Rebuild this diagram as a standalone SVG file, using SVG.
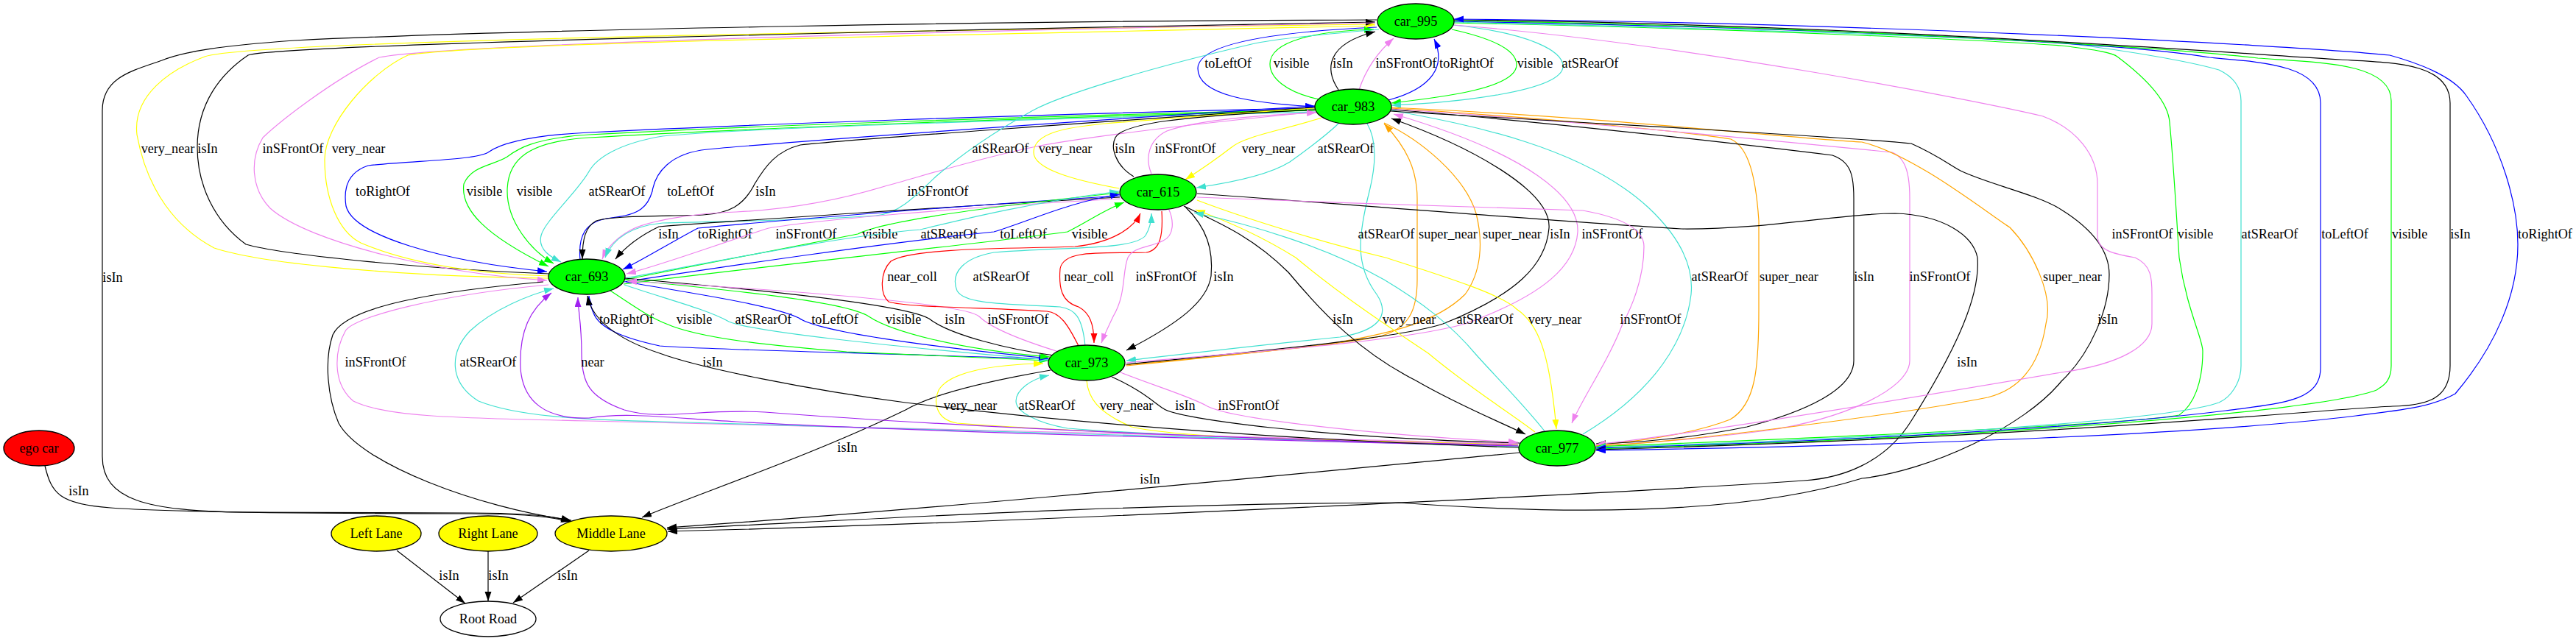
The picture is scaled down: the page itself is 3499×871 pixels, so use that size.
<svg xmlns="http://www.w3.org/2000/svg" width="3499" height="871" viewBox="0 0 3499 871">
<style>
.e path{fill:none;stroke-width:1.2}
.k{stroke:#000}.b{stroke:#00f}.g{stroke:#0f0}.c{stroke:#40e0d0}.v{stroke:#ee82ee}.y{stroke:#ff0}.o{stroke:#ffa500}.r{stroke:#f00}.p{stroke:#a020f0}
text{font-family:"Liberation Serif","Times New Roman",serif;font-size:18.2px;fill:#000;text-anchor:middle}
.n ellipse{stroke:#000;stroke-width:1.3}
</style>
<defs>
<marker id="mk" markerWidth="14" markerHeight="10" refX="13" refY="4.5" orient="auto-start-reverse" markerUnits="userSpaceOnUse"><path d="M0,0L13,4.5L0,9z" fill="#000"/></marker>
<marker id="mb" markerWidth="14" markerHeight="10" refX="13" refY="4.5" orient="auto-start-reverse" markerUnits="userSpaceOnUse"><path d="M0,0L13,4.5L0,9z" fill="#00f"/></marker>
<marker id="mg" markerWidth="14" markerHeight="10" refX="13" refY="4.5" orient="auto-start-reverse" markerUnits="userSpaceOnUse"><path d="M0,0L13,4.5L0,9z" fill="#0f0"/></marker>
<marker id="mc" markerWidth="14" markerHeight="10" refX="13" refY="4.5" orient="auto-start-reverse" markerUnits="userSpaceOnUse"><path d="M0,0L13,4.5L0,9z" fill="#40e0d0"/></marker>
<marker id="mv" markerWidth="14" markerHeight="10" refX="13" refY="4.5" orient="auto-start-reverse" markerUnits="userSpaceOnUse"><path d="M0,0L13,4.5L0,9z" fill="#ee82ee"/></marker>
<marker id="my" markerWidth="14" markerHeight="10" refX="13" refY="4.5" orient="auto-start-reverse" markerUnits="userSpaceOnUse"><path d="M0,0L13,4.5L0,9z" fill="#ff0"/></marker>
<marker id="mo" markerWidth="14" markerHeight="10" refX="13" refY="4.5" orient="auto-start-reverse" markerUnits="userSpaceOnUse"><path d="M0,0L13,4.5L0,9z" fill="#ffa500"/></marker>
<marker id="mr" markerWidth="14" markerHeight="10" refX="13" refY="4.5" orient="auto-start-reverse" markerUnits="userSpaceOnUse"><path d="M0,0L13,4.5L0,9z" fill="#f00"/></marker>
<marker id="mp" markerWidth="14" markerHeight="10" refX="13" refY="4.5" orient="auto-start-reverse" markerUnits="userSpaceOnUse"><path d="M0,0L13,4.5L0,9z" fill="#a020f0"/></marker>
</defs>
<rect width="3499" height="871" fill="#fff"/>
<g id="edges">
<!-- car_983 <-> car_995 -->
<g class="e"><path class="b" d="M1870,37 C1760,42 1627,55 1627,93 C1627,130 1700,140 1786,145" marker-end="url(#mb)"/><text x="1668" y="92">toLeftOf</text></g>
<g class="e"><path class="g" d="M1792,135 C1745,125 1725,105 1725,87 C1725,55 1790,42 1866,40" marker-end="url(#mg)"/><text x="1754" y="92">visible</text></g>
<g class="e"><path class="k" d="M1818,122 C1800,95 1800,60 1868,43" marker-end="url(#mk)"/><text x="1824" y="92">isIn</text></g>
<g class="e"><path class="v" d="M1846,122 C1855,95 1870,72 1893,52" marker-end="url(#mv)"/><text x="1910" y="92">inSFrontOf</text></g>
<g class="e"><path class="b" d="M1886,136 C1945,120 1965,90 1948,53" marker-end="url(#mb)"/><text x="1992" y="92">toRightOf</text></g>
<g class="e"><path class="g" d="M1972,40 C2040,55 2060,72 2060,88 C2060,120 1960,132 1890,140" marker-end="url(#mg)"/><text x="2085" y="92">visible</text></g>
<g class="e"><path class="c" d="M1974,34 C2080,45 2123,70 2123,90 C2123,125 1970,140 1890,143" marker-end="url(#mc)"/><text x="2160" y="92">atSRearOf</text></g>
<!-- isIn to Middle Lane -->
<g class="e"><path class="k" d="M1870,27 C1400,28 700,40 400,55 C300,62 250,70 220,82 C180,96 139,105 139,150 L139,620 C139,680 200,694 330,696 L640,697 C700,697 750,700 775,708" marker-end="url(#mk)"/><text x="153" y="383">isIn</text></g>
<g class="e"><path class="k" d="M61,633 C70,670 80,685 150,690 C250,697 500,698 640,698 C700,698 750,702 775,709" marker-end="url(#mk)"/><text x="107" y="673">isIn</text></g>
<!-- car_693 <-> car_995 -->
<g class="e"><path class="y" d="M745,378 C560,376 360,360 291,337 C240,310 200,260 186,183 C180,130 230,95 278,77 C340,55 1200,42 1868,33" marker-end="url(#my)"/><text x="228" y="208">very_near</text></g>
<g class="e"><path class="k" d="M746,372 C560,365 380,345 334,332 C290,300 268,250 268,200 C268,140 300,100 337,75 C380,60 1300,40 1868,30" marker-end="url(#mk)"/><text x="282" y="208">isIn</text></g>
<g class="e"><path class="v" d="M1868,31 C1300,42 600,60 515,78 C450,110 380,165 357,187 C340,215 340,255 367,283 C420,330 600,372 743,381" marker-end="url(#mv)"/><text x="398" y="208">inSFrontOf</text></g>
<g class="e"><path class="y" d="M1868,35 C1300,48 650,58 554,75 C500,100 441,170 441,217 C441,270 460,315 490,330 C560,360 650,372 745,375"/><text x="487" y="208">very_near</text></g>
<!-- car_983 -> car_693 -->
<g class="e"><path class="b" d="M1786,147 C1400,155 1000,170 800,180 C720,184 680,195 663,207 C645,218 560,218 500,225 C470,235 467,260 470,280 C480,320 600,355 743,369" marker-end="url(#mb)"/><text x="520" y="266">toRightOf</text></g>
<g class="e"><path class="g" d="M1786,149 C1400,158 1000,172 800,183 C720,188 700,205 689,213 C670,225 640,225 630,250 C625,285 660,320 745,362" marker-end="url(#mg)"/><text x="658" y="266">visible</text></g>
<g class="e"><path class="g" d="M1786,150 C1400,160 1000,175 800,187 C720,192 689,215 689,260 C689,300 720,340 752,358" marker-end="url(#mg)"/><text x="726" y="266">visible</text></g>
<g class="e"><path class="c" d="M1786,152 C1400,162 1000,175 900,185 C840,195 810,215 800,233 C785,260 740,300 735,320 C730,340 750,350 762,356" marker-end="url(#mc)"/><text x="838" y="266">atSRearOf</text></g>
<g class="e"><path class="b" d="M788,353 C785,320 795,300 830,296 C870,292 880,280 886,260 C890,235 910,208 961,203 C1000,199 1300,175 1786,144" marker-end="url(#mb)"/><text x="938" y="266">toLeftOf</text></g>
<g class="e"><path class="k" d="M1786,146 C1500,165 1150,190 1087,197 C1055,205 1040,225 1025,250 C1010,280 990,290 955,292 C900,294 830,293 810,300 C795,308 791,325 791,352" marker-end="url(#mk)"/><text x="1040" y="266">isIn</text></g>
<g class="e"><path class="v" d="M1788,152 C1600,170 1450,190 1403,200 C1330,215 1250,240 1202,253 C1130,275 1060,285 1000,288 C940,290 880,300 856,313 C838,323 825,335 818,352" marker-end="url(#mv)"/><text x="1274" y="266">inSFrontOf</text></g>
<g class="e"><path class="c" d="M1873,40 C1780,48 1720,55 1700,60 C1550,95 1440,130 1403,150 C1340,185 1300,215 1271,240 C1240,270 1220,290 1190,293 C1100,300 1000,300 900,303 C850,308 830,330 822,350" marker-end="url(#mc)"/><text x="1359" y="208">atSRearOf</text></g>
<!-- car_983 <-> car_615 -->
<g class="e"><path class="y" d="M1520,256 C1460,245 1404,230 1404,207 C1404,180 1450,173 1500,168 C1600,160 1700,152 1786,147"/><text x="1447" y="208">very_near</text></g>
<g class="e"><path class="k" d="M1540,240 C1515,225 1508,200 1515,187 C1525,168 1600,158 1786,149"/><text x="1528" y="208">isIn</text></g>
<g class="e"><path class="v" d="M1564,236 C1555,215 1560,190 1585,178 C1620,165 1700,157 1788,153" marker-end="url(#mv)"/><text x="1610" y="208">inSFrontOf</text></g>
<g class="e"><path class="y" d="M1795,160 C1750,175 1690,185 1673,200 C1660,210 1640,225 1610,244" marker-end="url(#my)"/><text x="1723" y="208">very_near</text></g>
<g class="e"><path class="c" d="M1818,168 C1800,185 1780,200 1752,220 C1720,240 1660,250 1625,255" marker-end="url(#mc)"/><text x="1828" y="208">atSRearOf</text></g>
<!-- car_615 <-> car_693 -->
<g class="e"><path class="k" d="M1521,268 C1300,280 1000,300 895,308 C870,320 850,335 836,352" marker-end="url(#mk)"/><text x="908" y="324">isIn</text></g>
<g class="e"><path class="b" d="M1521,266 C1300,280 1050,300 948,310 C910,330 870,355 846,366" marker-end="url(#mb)"/><text x="985" y="324">toRightOf</text></g>
<g class="e"><path class="v" d="M1522,270 C1300,282 1100,300 1044,310 C980,330 900,360 851,372" marker-end="url(#mv)"/><text x="1095" y="324">inSFrontOf</text></g>
<g class="e"><path class="g" d="M849,380 C950,360 1100,330 1165,318 C1200,300 1350,280 1520,262" marker-end="url(#mg)"/><text x="1195" y="324">visible</text></g>
<g class="e"><path class="c" d="M849,378 C1000,350 1150,320 1250,312 C1300,300 1400,275 1520,260" marker-end="url(#mc)"/><text x="1289" y="324">atSRearOf</text></g>
<g class="e"><path class="b" d="M848,383 C1000,360 1200,330 1350,315 C1400,300 1450,275 1521,264" marker-end="url(#mb)"/><text x="1390" y="324">toLeftOf</text></g>
<g class="e"><path class="g" d="M847,386 C1050,360 1300,335 1450,315 C1480,300 1500,285 1527,275" marker-end="url(#mg)"/><text x="1480" y="324">visible</text></g>
<!-- car_693 <-> car_973 -->
<g class="e"><path class="b" d="M1425,488 C1200,480 950,475 896,470 C850,460 814,447 806,425 C802,415 800,410 800,402" marker-end="url(#mb)"/><text x="851" y="440">toRightOf</text></g>
<g class="e"><path class="g" d="M829,395 C860,415 880,430 905,440 C950,460 1050,470 1150,478 C1300,485 1380,488 1424,490" marker-end="url(#mg)"/><text x="943" y="440">visible</text></g>
<g class="e"><path class="c" d="M848,387 C900,405 960,420 990,437 C1020,450 1200,470 1424,489" marker-end="url(#mc)"/><text x="1037" y="440">atSRearOf</text></g>
<g class="e"><path class="b" d="M850,383 C950,400 1050,415 1085,432 C1110,450 1250,470 1424,487" marker-end="url(#mb)"/><text x="1134" y="440">toLeftOf</text></g>
<g class="e"><path class="g" d="M849,380 C1000,395 1150,410 1180,430 C1210,450 1300,475 1426,485" marker-end="url(#mg)"/><text x="1227" y="440">visible</text></g>
<g class="e"><path class="k" d="M848,378 C1050,395 1230,415 1262,433 C1290,455 1370,475 1432,483"/><text x="1297" y="440">isIn</text></g>
<g class="e"><path class="v" d="M1438,478 C1380,460 1345,445 1330,430 C1310,410 1000,390 852,382" marker-end="url(#mv)"/><text x="1383" y="440">inSFrontOf</text></g>
<!-- car_615 <-> car_973 -->
<g class="e"><path class="r" d="M1465,470 C1450,440 1440,425 1422,423 C1350,418 1230,418 1207,410 C1195,400 1195,370 1210,355 C1240,335 1400,338 1460,335 C1510,330 1540,310 1549,290" marker-end="url(#mr)"/><text x="1239" y="382">near_coll</text></g>
<g class="e"><path class="r" d="M1578,287 C1580,320 1576,340 1557,343 C1500,345 1445,338 1440,365 C1438,390 1441,410 1465,417 C1480,425 1486,440 1486,466" marker-end="url(#mr)"/><text x="1479" y="382">near_coll</text></g>
<g class="e"><path class="c" d="M1474,470 C1470,430 1460,420 1440,417 C1380,413 1310,415 1300,395 C1290,370 1310,350 1350,343 C1450,335 1540,340 1556,320 C1562,310 1564,300 1564,290" marker-end="url(#mc)"/><text x="1360" y="382">atSRearOf</text></g>
<g class="e"><path class="v" d="M1587,283 C1595,300 1595,320 1580,327 C1560,337 1540,335 1532,350 C1524,370 1530,400 1512,430 C1505,445 1500,455 1496,466" marker-end="url(#mv)"/><text x="1584" y="382">inSFrontOf</text></g>
<g class="e"><path class="k" d="M1610,281 C1640,310 1648,340 1645,375 C1640,410 1600,440 1530,476" marker-end="url(#mk)"/><text x="1662" y="382">isIn</text></g>
<!-- car_983 <-> car_973 -->
<g class="e"><path class="c" d="M1857,168 C1870,190 1870,220 1860,260 C1845,320 1840,360 1870,400 C1890,430 1870,450 1820,458 C1700,470 1600,482 1530,490" marker-end="url(#mc)"/><text x="1883" y="324">atSRearOf</text></g>
<g class="e"><path class="o" d="M1529,496 C1700,480 1820,468 1870,458 C1915,448 1925,420 1925,380 L1925,270 C1925,230 1910,200 1880,168" marker-end="url(#mo)"/><text x="1967" y="324">super_near</text></g>
<g class="e"><path class="o" d="M1880,167 C1930,190 1990,240 2005,290 C2015,330 2012,370 1990,400 C1950,440 1880,455 1800,468 C1700,480 1600,490 1530,497"/><text x="2054" y="324">super_near</text></g>
<g class="e"><path class="k" d="M1530,495 C1700,478 1900,460 1960,440 C2060,400 2100,360 2104,310 C2108,260 2000,200 1890,161" marker-end="url(#mk)"/><text x="2119" y="324">isIn</text></g>
<g class="e"><path class="v" d="M1530,493 C1700,478 1900,465 1990,440 C2100,400 2140,360 2143,315 C2145,270 2080,210 1893,155" marker-end="url(#mv)"/><text x="2190" y="324">inSFrontOf</text></g>
<!-- car_983 -> car_977 -->
<g class="e"><path class="c" d="M1890,150 C2000,170 2150,200 2239,282 C2290,330 2300,370 2297,400 C2290,460 2250,530 2150,590"/><text x="2336" y="382">atSRearOf</text></g>
<g class="e"><path class="o" d="M1889,147 C2100,160 2300,180 2351,189 C2375,200 2385,240 2389,300 L2389,420 C2389,500 2385,550 2350,570 C2300,590 2220,600 2168,605" marker-end="url(#mo)"/><text x="2430" y="382">super_near</text></g>
<g class="e"><path class="k" d="M1889,149 C2100,165 2400,200 2489,211 C2515,220 2518,240 2518,270 L2518,490 C2518,530 2450,560 2373,580 C2300,595 2220,602 2168,603" marker-end="url(#mk)"/><text x="2532" y="382">isIn</text></g>
<g class="e"><path class="v" d="M1889,148 C2150,165 2450,195 2570,207 C2590,215 2594,240 2594,270 L2594,490 C2594,530 2500,570 2400,585 C2300,598 2220,603 2168,606" marker-end="url(#mv)"/><text x="2635" y="382">inSFrontOf</text></g>
<g class="e"><path class="o" d="M1889,146 C2200,160 2450,190 2529,193 C2600,210 2700,290 2730,309 C2760,340 2790,400 2779,440 C2770,500 2740,530 2700,540 C2600,560 2300,600 2168,606" marker-end="url(#mo)"/><text x="2815" y="382">super_near</text></g>
<!-- long isIn to Middle Lane -->
<g class="e"><path class="k" d="M1889,151 C2200,170 2500,185 2596,195 C2630,210 2650,225 2663,232 C2700,250 2770,265 2800,285 C2840,310 2865,340 2865,373 C2865,420 2840,480 2800,518 C2750,580 2620,640 2529,650 C2400,690 2200,705 1900,683 C1500,685 1200,705 906,719" marker-end="url(#mk)"/><text x="2863" y="440">isIn</text></g>
<g class="e"><path class="k" d="M1626,263 C1800,275 2100,300 2284,311 C2400,312 2500,290 2574,290 C2640,292 2680,320 2686,350 C2690,400 2660,470 2596,572 C2560,630 2500,650 2450,653 C2200,670 1400,710 907,722" marker-end="url(#mk)"/><text x="2672" y="498">isIn</text></g>
<g class="e"><path class="k" d="M2064,615 C1800,640 1300,690 906,717" marker-end="url(#mk)"/><text x="1562" y="657">isIn</text></g>
<g class="e"><path class="k" d="M1427,503 C1300,525 1250,545 1230,557 C1100,620 950,670 872,703" marker-end="url(#mk)"/><text x="1151" y="614">isIn</text></g>
<g class="e"><path class="k" d="M738,383 C600,395 470,415 452,455 C440,490 445,540 460,575 C490,630 650,690 776,707" marker-end="url(#mk)"/></g>
<!-- car_615 <-> car_977 -->
<g class="e"><path class="k" d="M1608,280 C1650,300 1700,320 1750,370 C1800,430 1850,480 1923,517 C1980,550 2030,570 2072,590" marker-end="url(#mk)"/><text x="1824" y="440">isIn</text></g>
<g class="e"><path class="y" d="M2085,587 C2050,560 2000,530 1940,480 C1880,440 1820,400 1760,350 C1720,325 1680,305 1624,285" marker-end="url(#my)"/><text x="1914" y="440">very_near</text></g>
<g class="e"><path class="c" d="M2099,587 C2070,550 2030,510 2006,483 C1970,440 1930,410 1880,380 C1800,335 1700,305 1622,289" marker-end="url(#mc)"/><text x="2017" y="440">atSRearOf</text></g>
<g class="e"><path class="y" d="M1626,272 C1700,300 1800,330 1882,350 C1960,375 2040,400 2060,420 C2090,440 2105,480 2114,583" marker-end="url(#my)"/><text x="2112" y="440">very_near</text></g>
<g class="e"><path class="v" d="M1626,268 C1800,275 2100,285 2150,286 C2200,295 2233,310 2233,335 C2233,380 2215,420 2204,440 C2185,490 2150,540 2135,575" marker-end="url(#mv)"/><text x="2242" y="440">inSFrontOf</text></g>
<!-- car_973 <-> car_977 -->
<g class="e"><path class="y" d="M2062,604 C1800,598 1500,590 1300,575 C1270,570 1268,545 1275,530 C1290,505 1350,495 1417,494" marker-end="url(#my)"/><text x="1318" y="557">very_near</text></g>
<g class="e"><path class="c" d="M2062,607 C1800,600 1550,590 1450,582 C1410,575 1380,560 1380,545 C1380,530 1400,515 1425,510" marker-end="url(#mc)"/><text x="1422" y="557">atSRearOf</text></g>
<g class="e"><path class="y" d="M1476,517 C1478,540 1490,560 1537,580 C1600,595 1800,600 2062,605"/><text x="1530" y="557">very_near</text></g>
<g class="e"><path class="k" d="M1510,512 C1550,530 1565,545 1580,555 C1600,570 1800,595 2064,602"/><text x="1610" y="557">isIn</text></g>
<g class="e"><path class="v" d="M1522,506 C1570,525 1620,540 1640,552 C1670,568 1850,590 2062,601" marker-end="url(#mv)"/><text x="1696" y="557">inSFrontOf</text></g>
<!-- car_693 <-> car_977 -->
<g class="e"><path class="v" d="M745,387 C600,400 480,430 469,450 C455,475 450,520 480,545 C520,565 600,568 800,572 C1200,580 1700,595 2062,603"/><text x="510" y="498">inSFrontOf</text></g>
<g class="e"><path class="c" d="M2062,606 C1700,598 1200,580 900,573 C780,570 700,565 650,545 C610,520 610,480 638,450 C670,420 720,400 752,392" marker-end="url(#mc)"/><text x="663" y="498">atSRearOf</text></g>
<g class="e"><path class="p" d="M2062,605 C1700,598 1300,580 1039,560 C950,555 900,572 848,557 C800,540 790,520 790,480 C790,440 785,420 785,404" marker-end="url(#mp)"/><text x="805" y="498">near</text></g>
<g class="e"><path class="p" d="M2062,606 C1700,598 1200,585 1000,573 C900,567 850,560 800,568 C740,570 710,545 707,500 C705,450 720,420 749,398" marker-end="url(#mp)"/></g>
<g class="e"><path class="k" d="M2063,608 C1800,600 1500,580 1230,547 C1100,530 950,500 896,480 C850,465 805,440 798,402" marker-end="url(#mk)"/><text x="968" y="498">isIn</text></g>
<!-- car_995 <-> car_977 right side -->
<g class="e"><path class="v" d="M1975,34 C2300,60 2700,140 2775,158 C2820,175 2849,210 2849,250 L2849,320 C2849,340 2870,345 2900,350 C2923,360 2923,380 2923,400 L2923,440 C2923,470 2880,495 2800,506 C2600,540 2300,590 2168,604" marker-end="url(#mv)"/><text x="2910" y="324">inSFrontOf</text></g>
<g class="e"><path class="g" d="M1975,31 C2400,40 2700,55 2800,62 C2850,68 2870,72 2876,77 C2920,110 2945,140 2947,166 C2953,230 2956,290 2960,350 C2970,420 2992,460 2992,477 C2992,520 2980,550 2960,564 C2900,575 2600,590 2168,607" marker-end="url(#mg)"/><text x="2982" y="324">visible</text></g>
<g class="e"><path class="c" d="M1975,30 C2400,40 2700,52 2800,58 C2900,70 2980,85 3014,95 C3035,105 3044,120 3044,137 L3044,497 C3044,520 3030,540 3014,547 C2950,570 2600,595 2168,608" marker-end="url(#mc)"/><text x="3083" y="324">atSRearOf</text></g>
<g class="e"><path class="b" d="M1975,29 C2500,38 2900,60 3001,78 C3080,85 3152,90 3152,140 L3152,500 C3152,545 3100,548 3023,558 C2850,580 2500,600 2168,609" marker-end="url(#mb)"/><text x="3185" y="324">toLeftOf</text></g>
<g class="e"><path class="g" d="M1975,28 C2500,36 2950,65 3067,79 C3150,85 3248,85 3248,137 L3248,497 C3248,520 3235,525 3228,530 C3150,560 2700,595 2168,610"/><text x="3273" y="324">visible</text></g>
<g class="e"><path class="k" d="M1975,27 C2500,32 3000,70 3179,81 C3250,85 3328,85 3328,140 L3328,497 C3328,540 3300,551 3250,552 C3157,556 2800,593 2168,611" marker-end="url(#mk)"/><text x="3342" y="324">isIn</text></g>
<g class="e"><path class="b" d="M1975,26 C2500,30 3100,60 3246,75 C3300,90 3335,108 3350,130 C3400,200 3420,280 3420,332 C3420,400 3390,470 3335,535 C3300,555 3250,558 3200,565 C3000,590 2600,605 2168,612" marker-start="url(#mb)" marker-end="url(#mb)"/><text x="3457" y="324">toRightOf</text></g>
<!-- lanes to Root Road -->
<g class="e"><path class="k" d="M539,748 L632,820" marker-end="url(#mk)"/><text x="610" y="788">isIn</text></g>
<g class="e"><path class="k" d="M663,749 L663,817" marker-end="url(#mk)"/><text x="677" y="788">isIn</text></g>
<g class="e"><path class="k" d="M800,748 L697,819" marker-end="url(#mk)"/><text x="771" y="788">isIn</text></g>
</g>
<g id="car_995" class="n"><ellipse cx="1923" cy="29" rx="52" ry="24" fill="#0f0"/><text x="1923" y="35">car_995</text></g>
<g id="car_983" class="n"><ellipse cx="1838" cy="145" rx="52" ry="24" fill="#0f0"/><text x="1838" y="151">car_983</text></g>
<g id="car_615" class="n"><ellipse cx="1573" cy="261" rx="52" ry="24" fill="#0f0"/><text x="1573" y="267">car_615</text></g>
<g id="car_693" class="n"><ellipse cx="797" cy="376" rx="52" ry="24" fill="#0f0"/><text x="797" y="382">car_693</text></g>
<g id="car_973" class="n"><ellipse cx="1476" cy="493" rx="52" ry="24" fill="#0f0"/><text x="1476" y="499">car_973</text></g>
<g id="car_977" class="n"><ellipse cx="2115" cy="609" rx="52" ry="24" fill="#0f0"/><text x="2115" y="615">car_977</text></g>
<g id="ego_car" class="n"><ellipse cx="53" cy="609" rx="48" ry="24" fill="#f00"/><text x="53" y="615">ego car</text></g>
<g id="left_lane" class="n"><ellipse cx="511" cy="725" rx="61" ry="24" fill="#ff0"/><text x="511" y="731">Left Lane</text></g>
<g id="right_lane" class="n"><ellipse cx="663" cy="725" rx="67" ry="24" fill="#ff0"/><text x="663" y="731">Right Lane</text></g>
<g id="middle_lane" class="n"><ellipse cx="830" cy="725" rx="76" ry="24" fill="#ff0"/><text x="830" y="731">Middle Lane</text></g>
<g id="root_road" class="n"><ellipse cx="663" cy="841" rx="65" ry="24" fill="#fff"/><text x="663" y="847">Root Road</text></g>
</svg>
